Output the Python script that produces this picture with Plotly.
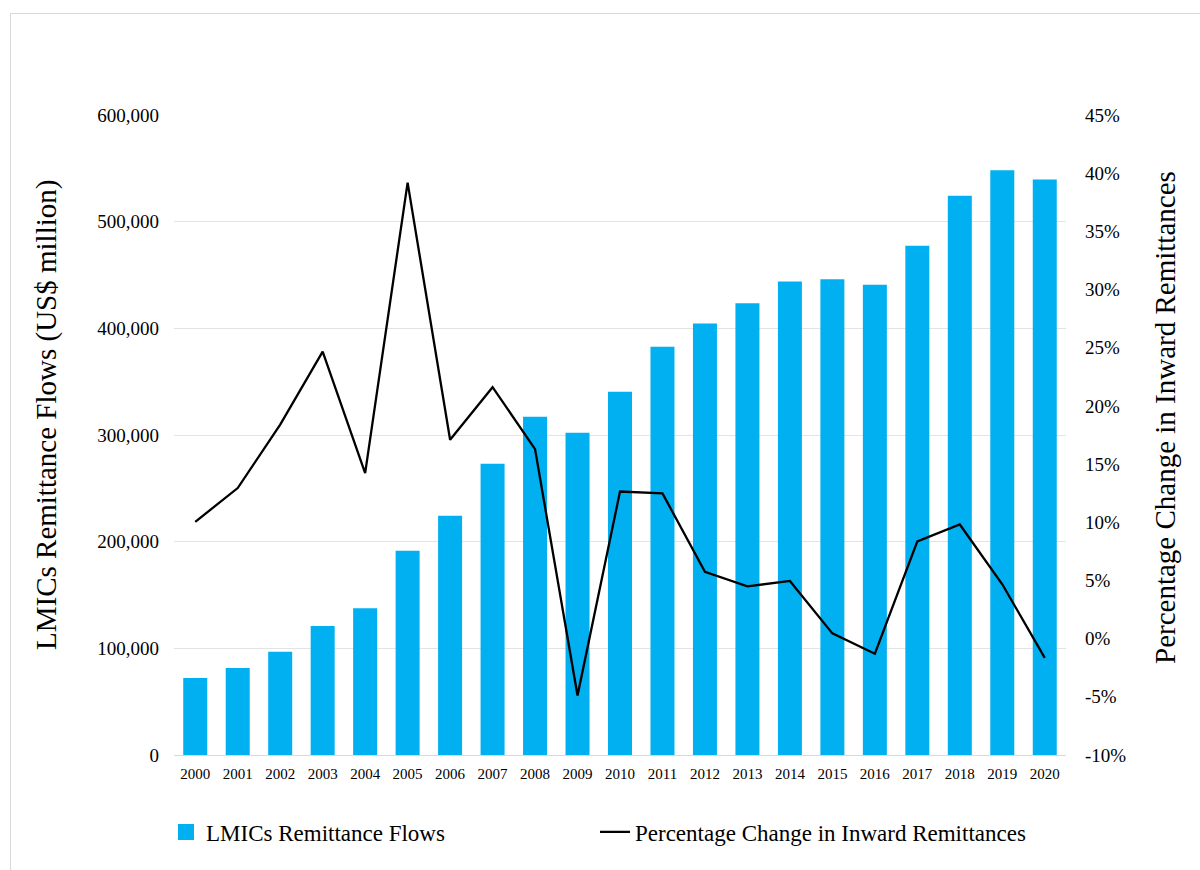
import plotly.graph_objects as go

years = [str(y) for y in range(2000, 2021)]
flows = [72100, 81500, 96800, 120900, 137600, 191600, 224200, 273100, 317100, 302000,
         340600, 382800, 404600, 423400, 443800, 446000, 440900, 477500, 524400, 548200, 539600]
pct_change = [10.04, 12.94, 18.4, 24.66, 14.23, 39.19, 17.09, 21.61, 16.29, -4.89,
              12.64, 12.48, 5.75, 4.49, 4.96, 0.45, -1.30, 8.36, 9.81, 4.67, -1.65]
left_ticks = [0, 100000, 200000, 300000, 400000, 500000, 600000]
right_ticks = [-10, -5, 0, 5, 10, 15, 20, 25, 30, 35, 40, 45]
left_title = "LMICs Remittance Flows (US$ million)"
right_title = "Percentage Change in Inward Remittances"

FONT = "Liberation Serif"
BAR_COLOR = "#00B0F0"

fig = go.Figure()
fig.add_trace(go.Bar(
    x=years, y=flows, name="LMICs Remittance Flows",
    marker=dict(color=BAR_COLOR, line=dict(width=0)),
    showlegend=False, yaxis="y",
))
# legend entry for the bars (square swatch)
fig.add_trace(go.Scatter(
    x=[None], y=[None], name="LMICs Remittance Flows", mode="markers",
    marker=dict(symbol="square", size=16, color=BAR_COLOR),
    legend="legend", yaxis="y",
))
fig.add_trace(go.Scatter(
    x=years, y=pct_change, name="Percentage Change in Inward Remittances",
    mode="lines", line=dict(color="#000000", width=2.3),
    legend="legend2", yaxis="y2",
))

L, R, T, B = 174, 134, 115, 115
W, H = 1200, 870
pw, ph = W - L - R, H - T - B

def px_to_paper_x(px):
    return (px - L) / pw

def px_to_paper_y(py):
    return (H - B - py) / ph

fig.update_layout(
    width=W, height=H,
    margin=dict(l=L, r=R, t=T, b=B, pad=0),
    paper_bgcolor="white", plot_bgcolor="white",
    font=dict(family=FONT, color="#000000"),
    bargap=0.435,
    showlegend=True,
    xaxis=dict(
        type="category", showgrid=False,
        showline=True, linecolor="#d9d9d9", linewidth=1,
        ticks="", tickfont=dict(size=15, family=FONT),
        ticklabelstandoff=5,
    ),
    yaxis=dict(
        range=[0, 600000], tickvals=left_ticks,
        ticktext=[f"{v:,}" for v in left_ticks],
        showgrid=True, gridcolor="#e3e3e3", gridwidth=1,
        zeroline=False, showline=False, ticks="",
        tickfont=dict(size=19, family=FONT),
        ticklabelstandoff=14,
    ),
    yaxis2=dict(
        range=[-10, 45], tickvals=right_ticks,
        ticktext=[f"{v}%" for v in right_ticks],
        overlaying="y", side="right",
        showgrid=False, zeroline=False, showline=False, ticks="",
        tickfont=dict(size=19, family=FONT),
        ticklabelstandoff=18,
    ),
    legend=dict(
        x=px_to_paper_x(166), y=px_to_paper_y(832), xanchor="left", yanchor="middle",
        orientation="h", font=dict(size=23, family=FONT),
        bgcolor="rgba(0,0,0,0)", borderwidth=0, itemsizing="trace",
    ),
    legend2=dict(
        x=px_to_paper_x(595), y=px_to_paper_y(832), xanchor="left", yanchor="middle",
        orientation="h", font=dict(size=23, family=FONT),
        bgcolor="rgba(0,0,0,0)", borderwidth=0,
    ),
    annotations=[
        dict(text=left_title, xref="paper", yref="paper",
             x=px_to_paper_x(46), y=px_to_paper_y(415),
             xanchor="center", yanchor="middle", textangle=-90, showarrow=False,
             font=dict(size=29, family=FONT)),
        dict(text=right_title, xref="paper", yref="paper",
             x=px_to_paper_x(1165), y=px_to_paper_y(418),
             xanchor="center", yanchor="middle", textangle=-90, showarrow=False,
             font=dict(size=29, family=FONT)),
    ],
    shapes=[dict(
        type="rect", xref="paper", yref="paper",
        x0=px_to_paper_x(10.5), x1=px_to_paper_x(1250),
        y0=px_to_paper_y(900), y1=px_to_paper_y(13.5),
        line=dict(color="#d9d9d9", width=1), fillcolor="rgba(0,0,0,0)", layer="below",
    )],
)

fig.write_html("out.html")
